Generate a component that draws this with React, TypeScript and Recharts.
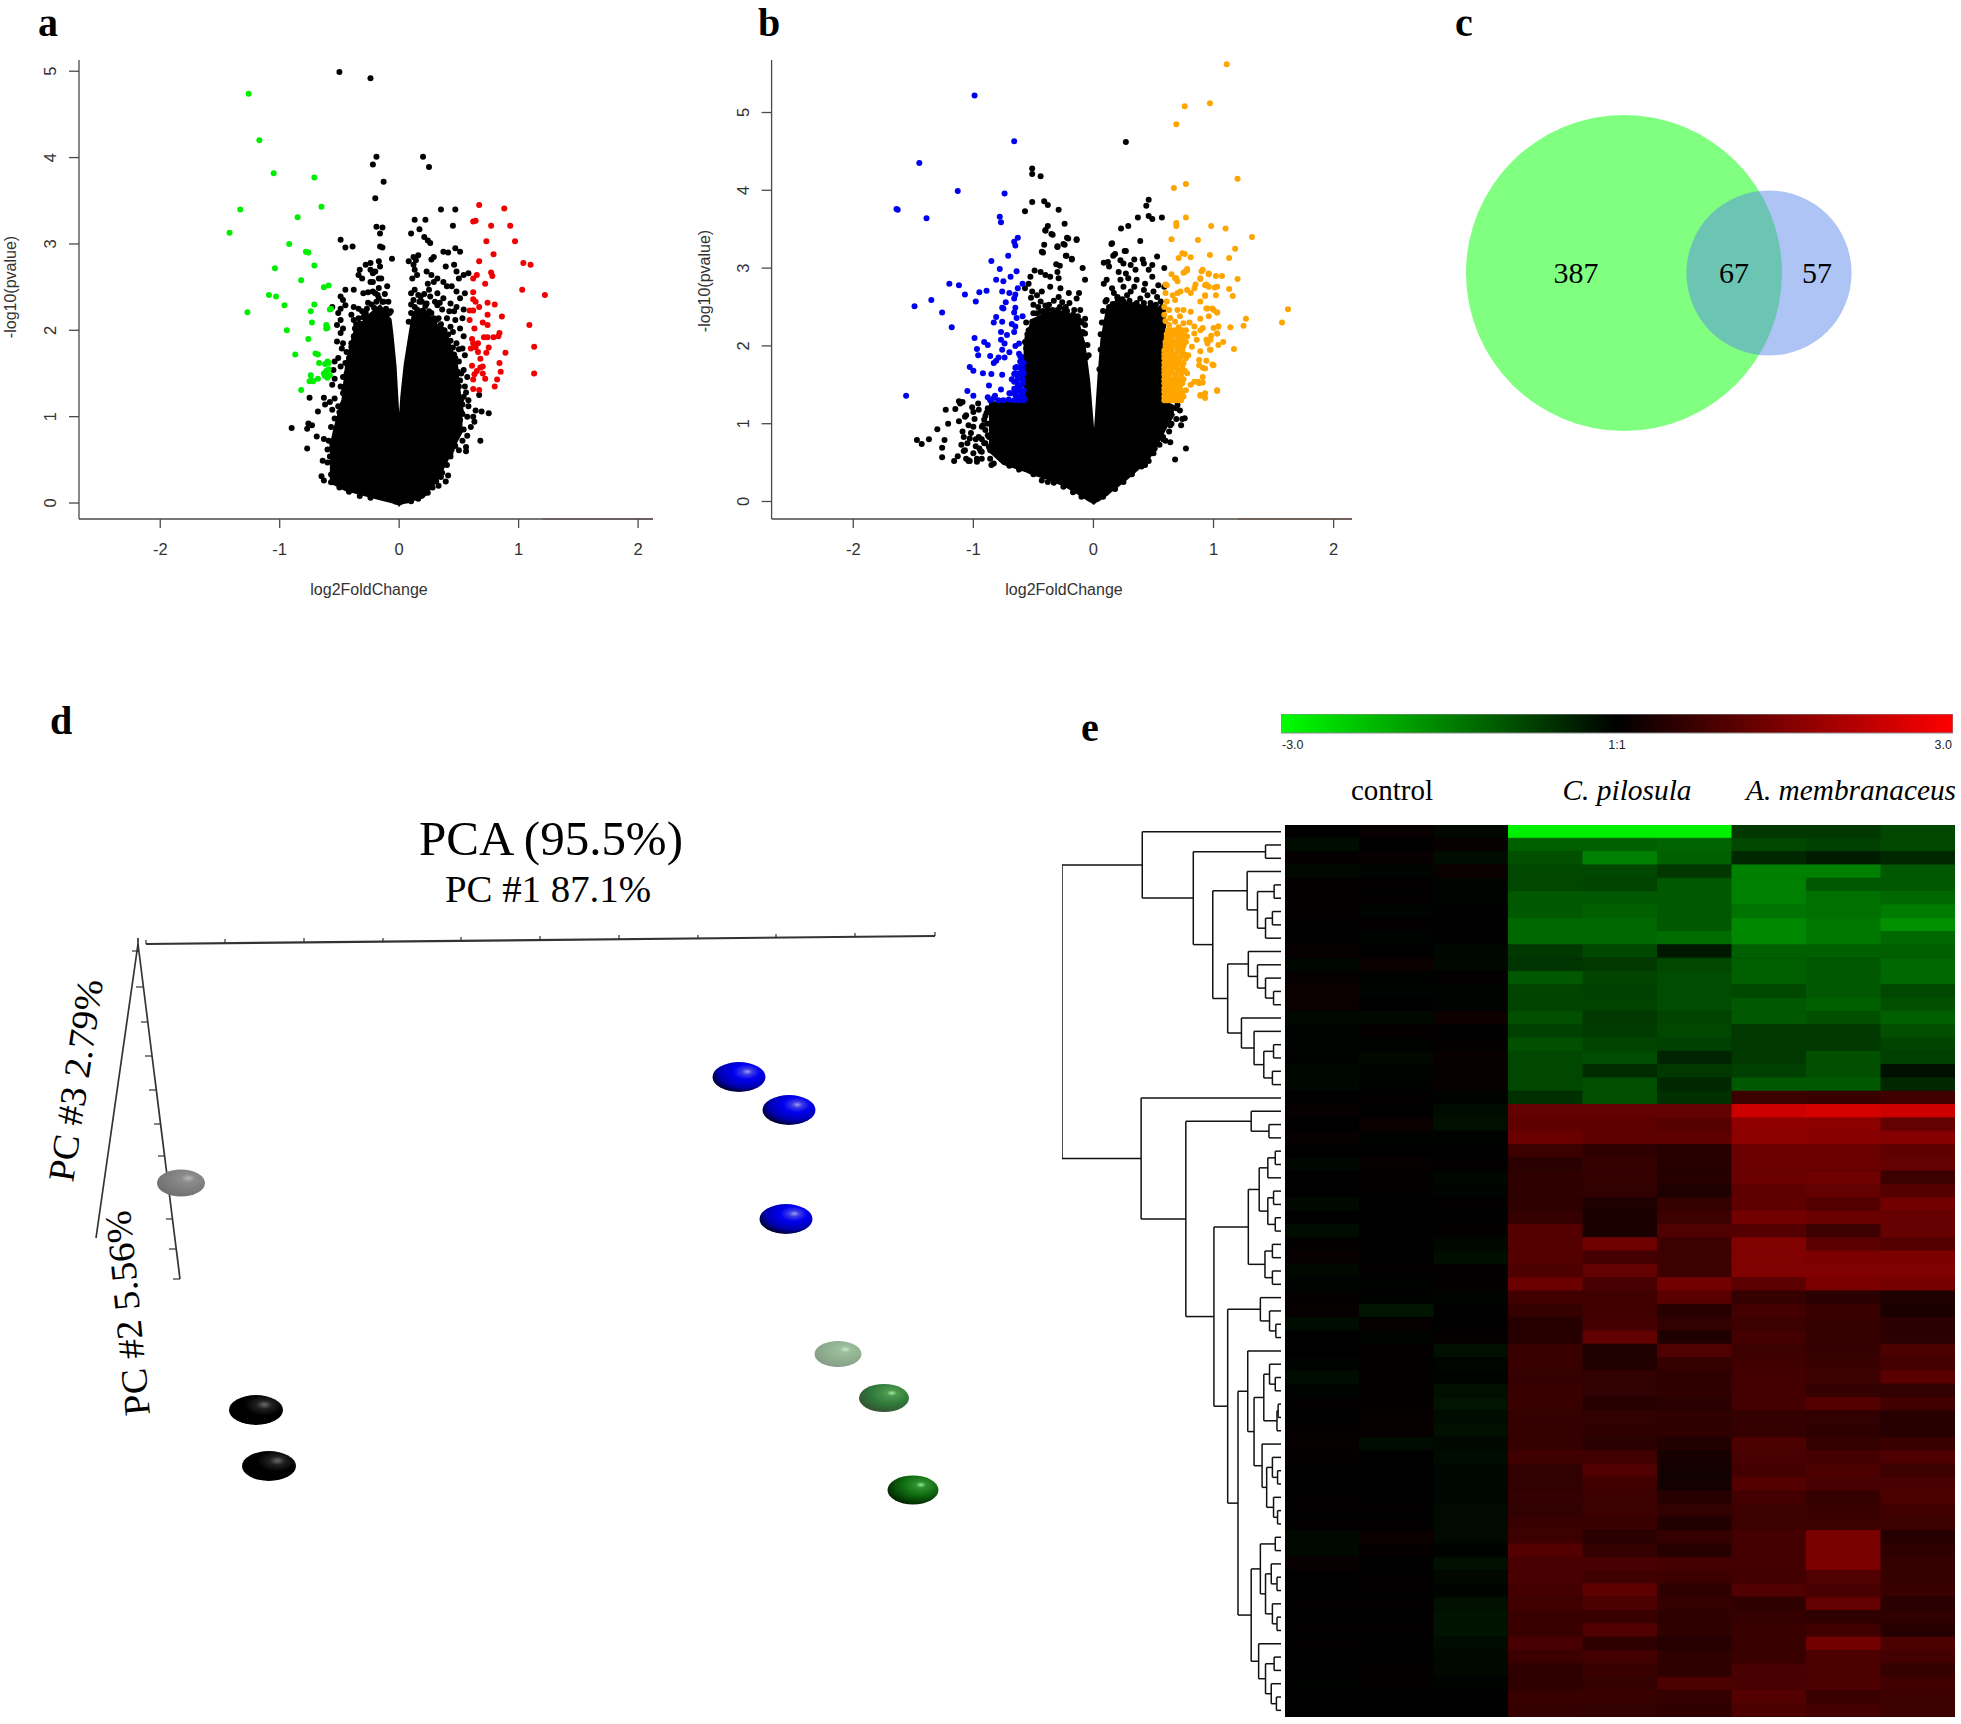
import React from "react";
import {
  BarChart, Bar, Cell, ComposedChart, Area, Scatter, ScatterChart,
  XAxis, YAxis, ZAxis, ReferenceLine,
} from "recharts";

type Rows = [number, number[]][];
type Pt = [number, number];
const fromRows = (rows: Rows) => rows.flatMap(([y, xs]) => xs.map((x) => ({ x, y })));
const fromPts = (p: Pt[]) => p.map(([x, y]) => ({ x, y }));

/* ---------- panel a ---------- */
const aCore: [number, number, number][] = [
  [-0.58,0.24,0.6],[-0.54,0.22,0.85],[-0.47,0.17,1.2],[-0.44,0.15,1.6],[-0.38,0.13,1.95],[-0.27,0.09,2.15],[-0.16,0.05,2.28],[-0.075,0.02,2.12],
  [-0.06,0.015,1.95],[-0.034,0,1.58],[-0.006,-0.01,0.9],[0,-0.02,0.3],[0.006,-0.01,0.9],[0.022,0,1.23],[0.05,0.01,1.6],[0.09,0.02,1.95],
  [0.12,0.04,2.2],[0.2,0.07,2.25],[0.32,0.28,2.05],[0.4,0.5,1.92],[0.48,0.72,1.6],[0.51,0.8,1.2],[0.53,0.85,1.05],
];
const aGreen: Pt[] = [
  [-1.26,4.74],[-1.17,4.2],[-1.05,3.82],[-0.71,3.77],[-0.65,3.43],[-1.33,3.4],[-0.85,3.31],[-1.42,3.13],[-0.92,3],[-0.78,2.91],
  [-0.76,2.9],[-0.71,2.75],[-1.04,2.72],[-0.82,2.58],[-0.59,2.52],[-0.63,2.5],[-1.09,2.41],[-1.03,2.39],[-0.96,2.29],[-0.71,2.3],
  [-0.74,2.22],[-1.27,2.21],[-0.57,2.25],[-0.58,2.24],[-0.73,2.09],[-0.61,2.06],[-0.6,2.03],[-0.61,2.02],[-0.94,2],[-0.76,1.9],[-0.87,1.72],
  [-0.7,1.73],[-0.68,1.72],[-0.6,1.64],[-0.59,1.62],[-0.67,1.62],[-0.62,1.61],[-0.61,1.53],[-0.74,1.48],[-0.63,1.5],[-0.58,1.48],[-0.6,1.45],
  [-0.62,1.47],[-0.59,1.55],[-0.68,1.44],[-0.72,1.41],[-0.75,1.41],[-0.73,1.42],[-0.82,1.31],
];
const aRed: Pt[] = [
  [0.67,3.45],[0.88,3.41],[0.62,3.26],[0.64,3.27],[0.77,3.21],[0.93,3.21],[0.73,3.03],[0.97,3.03],[0.79,2.88],[0.67,2.8],[1.04,2.78],
  [1.1,2.76],[0.77,2.67],[0.78,2.63],[0.65,2.64],[0.62,2.6],[0.72,2.54],[1.03,2.47],[1.22,2.41],[0.62,2.44],[0.62,2.36],[0.64,2.33],
  [0.74,2.32],[0.8,2.3],[0.67,2.27],[0.59,2.23],[0.62,2.23],[0.74,2.18],[0.86,2.16],[0.59,2.12],[0.7,2.09],[0.74,2.06],[1.09,2.06],
  [0.63,2.02],[0.84,1.97],[0.83,1.93],[0.71,1.92],[0.74,1.92],[0.79,1.92],[0.61,1.9],[0.62,1.85],[0.66,1.85],[0.64,1.8],[0.6,1.79],
  [0.75,1.8],[1.13,1.81],[0.66,1.75],[0.73,1.74],[0.89,1.74],[0.68,1.67],[0.61,1.59],[0.84,1.62],[0.68,1.57],[0.7,1.58],[0.65,1.53],
  [1.13,1.5],[0.85,1.52],[0.63,1.49],[0.7,1.5],[0.72,1.44],[0.62,1.43],[0.82,1.43],[0.8,1.35],[0.62,1.32],[0.67,1.31],
];
const aBlackTop: Pt[] = [
  [-0.5,4.99],[-0.24,4.92],[-0.19,4.01],[0.2,4.01],[-0.22,3.92],[0.25,3.89],[-0.13,3.72],[-0.2,3.53],[0.35,3.4],[0.47,3.4],[0.13,3.28],
  [0.22,3.28],[0.45,3.21],[-0.19,3.2],[-0.14,3.19],[0.17,3.17],[-0.16,3.12],[0.1,3.12],[-0.49,3.05],[0.21,3.08],[0.24,3.04],[0.26,3.01],
  [-0.45,2.96],[-0.39,2.97],[-0.16,2.97],[-0.14,2.96],[-0.06,2.83],
  [-0.9,0.87],[-0.77,0.86],[-0.76,0.92],[-0.73,0.9],[-0.75,1.22],[-0.63,1.22],[-0.68,1.06],[-0.77,0.63],[-0.69,0.77],[-0.63,0.74],
  [-0.64,0.49],[-0.6,0.47],[-0.65,0.31],[-0.63,0.26],[-0.57,0.24],[0.67,1.25],[0.75,1.04],[0.69,1.06],[0.63,0.94],[0.68,0.72],
  [0.56,0.65],[0.56,0.6],[0.41,0.32],[0.39,0.25],[0.64,1.07],[0.62,1.0],[0.6,0.88],[0.57,0.78],[0.53,0.72],[0.35,0.3],[0.33,0.2],
];
const aLeftFringe: Pt[] = [
  [-0.24,2.78],[-0.28,2.76],[-0.33,2.7],[-0.34,2.64],[-0.31,2.6],[-0.24,2.7],[-0.22,2.66],[-0.17,2.8],[-0.16,2.74],[-0.2,2.68],[-0.17,2.6],[-0.22,2.56],
  [-0.24,2.56],[-0.15,2.6],[-0.1,2.51],[-0.17,2.49],[-0.2,2.43],[-0.17,2.37],[-0.13,2.33],[-0.09,2.33],[-0.38,2.47],[-0.45,2.47],[-0.49,2.39],[-0.47,2.35],
  [-0.49,2.25],[-0.56,2.27],[-0.51,2.2],[-0.45,2.29],[-0.38,2.27],[-0.34,2.25],[-0.31,2.22],[-0.3,2.43],[-0.22,2.45],[-0.34,2.14],[-0.38,2.12],[-0.4,2.18],
  [-0.49,2.12],[-0.52,2.06],[-0.47,2.02],[-0.49,1.97],[-0.37,2.02],[-0.31,2.02],[-0.35,1.97],[-0.38,1.93],[-0.52,1.87],[-0.47,1.85],[-0.48,1.79],[-0.44,1.75],
  [-0.4,1.81],[-0.34,1.85],[-0.51,1.68],[-0.54,1.64],[-0.49,1.58],[-0.55,1.54],[-0.54,1.44],[-0.56,1.37],[-0.45,1.62],[-0.42,1.54],[-0.47,1.46],[-0.44,1.39],
  [-0.49,1.35],[-0.47,1.27],[-0.54,1.21],[-0.58,1.17],[-0.62,1.14],[-0.47,1.15],[-0.51,1.12],[-0.56,1.08],[-0.44,1.06],[-0.54,0.98],[-0.49,0.9],[-0.52,0.85],
  [-0.47,0.81],[-0.44,0.92],[-0.56,0.69],[-0.54,0.61],[-0.49,0.65],[-0.58,0.54],[-0.41,1.72],[-0.43,1.47],[-0.5,1.05],[-0.57,0.88],[-0.59,0.72],[-0.6,0.62],
  [-0.55,0.42],[-0.57,0.33],[-0.53,0.27],[-0.48,0.23],[-0.43,0.18],[-0.36,2.07],[-0.28,2.2],[-0.26,2.32],[-0.12,2.42],[-0.07,2.22],
  [-0.3,2.15],[-0.33,2.08],[-0.27,2.25],[-0.23,2.3],[-0.19,2.33],[-0.14,2.33],[-0.11,2.25],[-0.08,2.2],[-0.42,1.68],[-0.4,1.85],[-0.36,1.98],[-0.46,1.3],
  [-0.44,1.5],[-0.5,0.98],[-0.53,0.75],[-0.29,2.18],[-0.21,2.26],[-0.18,2.41],[-0.26,2.44],[-0.12,2.2],[-0.5,0.18],[-0.42,0.13],[-0.33,0.08],[-0.24,0.06],
];
const aRightFringe: Pt[] = [
  [0.16,2.87],[0.12,2.85],[0.08,2.8],[0.14,2.81],[0.12,2.76],[0.13,2.7],[0.11,2.6],[0.15,2.64],[0.29,2.85],[0.27,2.82],[0.37,2.91],[0.41,2.9],[0.47,2.95],
  [0.51,2.91],[0.39,2.74],[0.46,2.76],[0.23,2.68],[0.27,2.64],[0.32,2.6],[0.24,2.54],[0.29,2.56],[0.37,2.56],[0.4,2.51],[0.44,2.51],[0.48,2.68],[0.54,2.64],
  [0.5,2.6],[0.58,2.66],[0.48,2.45],[0.55,2.43],[0.51,2.37],[0.13,2.47],[0.1,2.43],[0.16,2.41],[0.12,2.35],[0.25,2.47],[0.19,2.33],[0.32,2.43],[0.26,2.39],
  [0.23,2.31],[0.37,2.37],[0.32,2.29],[0.43,2.31],[0.48,2.27],[0.54,2.24],[0.46,2.22],[0.15,2.24],[0.1,2.2],[0.2,2.22],[0.27,2.2],[0.36,2.24],[0.4,2.14],
  [0.33,2.14],[0.47,2.12],[0.53,2.14],[0.29,2.06],[0.43,2.04],[0.51,2.02],[0.54,1.93],[0.39,1.93],[0.48,1.85],[0.53,1.79],[0.55,1.71],[0.5,1.64],[0.54,1.54],
  [0.57,1.46],[0.51,1.42],[0.55,1.35],[0.54,1.23],[0.58,1.19],[0.53,1.14],[0.57,1],[0.51,0.96],[0.54,0.85],[0.48,0.77],[0.46,0.69],[0.5,0.61],[0.43,0.54],
  [0.58,1.12],[0.45,1.98],[0.35,2.02],[0.5,1.78],[0.46,1.72],[0.52,1.5],[0.56,1.28],[0.52,1.05],[0.44,0.62],[0.4,0.44],[0.36,0.35],[0.28,0.18],[0.24,0.12],
  [0.08,2.1],[0.1,2.3],[0.13,2.27],[0.17,2.33],[0.22,2.28],[0.25,2.22],[0.29,2.14],[0.31,2.12],[0.35,2.07],[0.38,2],[0.41,1.95],[0.43,1.88],[0.45,1.8],
  [0.47,1.68],[0.49,1.52],[0.5,1.35],[0.52,1.2],[0.53,1.03],[0.51,0.85],[0.18,2.39],[0.21,2.42],[0.34,2.32],[0.42,2.22],[0.3,2.33],[0.1,0.02],[0.16,0.05],
  [0.22,0.12],[0.26,0.19],[0.31,0.25],[0.38,0.45],[0.43,0.58],[0.47,0.66],
];

/* ---------- panel b ---------- */
const bCore: [number, number, number][] = [
  [-0.87,0.66,1.27],[-0.75,0.49,1.27],[-0.57,0.4,1.27],[-0.569,0.4,2.03],[-0.51,0.36,2.33],[-0.39,0.3,2.42],[-0.275,0.23,2.42],[-0.22,0.19,2.42],[-0.14,0.12,2.35],
  [-0.11,0.09,2.2],[-0.08,0.06,2.03],[-0.04,0.02,1.56],[-0.006,-0.01,0.92],[0.003,-0.02,0.7],[0.017,0,0.92],[0.044,0.02,1.56],[0.07,0.05,2.08],[0.11,0.09,2.42],
  [0.14,0.13,2.5],[0.2,0.2,2.59],[0.28,0.3,2.55],[0.45,0.53,2.5],[0.56,0.83,2.48],[0.59,0.92,2.48],[0.6,0.95,1.27],[0.67,1.13,1.22],
];
const bBlue: Pt[] = [
  [-0.99,5.22],[-0.66,4.63],[-1.45,4.35],[-1.13,3.99],[-0.74,3.96],[-1.64,3.76],[-1.63,3.75],[-1.39,3.64],[-0.78,3.66],[-0.77,3.59],[-0.63,3.39],
  [-0.66,3.34],[-0.65,3.29],[-0.71,3.16],[-0.85,3.09],[-0.78,2.99],[-0.64,2.96],[-0.69,2.89],[-0.81,2.85],[-0.75,2.83],[-1.2,2.8],[-1.12,2.78],
  [-0.59,2.8],[-0.63,2.74],[-0.95,2.69],[-0.89,2.71],[-0.76,2.7],[-0.7,2.68],[-0.65,2.66],[-1.07,2.66],[-1.35,2.59],[-0.98,2.57],[-1.49,2.51],
  [-0.66,2.61],[-0.73,2.56],[-0.76,2.49],[-0.75,2.48],[-0.65,2.49],[-0.66,2.43],[-1.26,2.43],[-0.59,2.38],[-0.64,2.36],[-0.81,2.37],[-0.83,2.3],
  [-0.76,2.31],[-0.68,2.28],[-1.18,2.24],[-0.65,2.25],[-0.66,2.18],[-0.77,2.18],[-0.72,2.14],[-0.99,2.1],[-0.91,2.05],[-0.88,2.01],[-0.77,2.08],
  [-0.74,2.03],[-0.65,2],[-0.62,2.03],[-0.97,1.96],[-0.76,1.95],[-0.7,1.92],[-0.96,1.88],[-0.86,1.87],[-0.79,1.85],[-0.74,1.85],[-0.61,1.87],
  [-0.81,1.81],[-0.83,1.78],[-1.03,1.73],[-1,1.68],[-0.92,1.65],[-0.85,1.64],[-0.76,1.63],[-0.65,1.72],[-0.61,1.72],[-0.59,1.67],[-0.66,1.64],
  [-0.63,1.62],[-0.59,1.57],[-0.68,1.57],[-0.87,1.49],[-0.77,1.44],[-0.66,1.54],[-0.61,1.49],[-1.05,1.42],[-1,1.36],[-1.56,1.36],[-0.88,1.34],
  [-0.82,1.36],[-0.7,1.39],[-0.65,1.42],[-0.59,1.39],
];
const bBlueDense: Pt[] = [
  [-0.62,1.9],[-0.61,1.8],[-0.64,1.73],[-0.59,1.71],[-0.62,1.65],[-0.65,1.65],[-0.58,1.65],[-0.61,1.58],[-0.64,1.54],[-0.59,1.52],[-0.66,1.45],[-0.62,1.43],
  [-0.58,1.43],[-0.69,1.39],[-0.65,1.37],[-0.61,1.35],[-0.58,1.33],[-0.83,1.33],[-0.79,1.3],[-0.75,1.3],[-0.705,1.31],[-0.66,1.3],[-0.62,1.3],[-0.58,1.3],
  [-0.86,1.3],[-0.6,1.75],[-0.6,1.6],[-0.6,1.5],[-0.6,1.4],[-0.63,1.6],[-0.63,1.48],[-0.63,1.35],[-0.58,1.78],[-0.6,1.85],
];
const bOrange: Pt[] = [
  [1.11,5.62],[0.97,5.12],[0.76,5.08],[0.69,4.85],[1.2,4.15],[0.77,4.08],[0.67,4.03],[0.77,3.65],[0.69,3.58],[0.69,3.54],[0.98,3.54],[1.1,3.51],
  [1.32,3.4],[0.65,3.37],[0.87,3.36],[1.18,3.25],[0.97,3.17],[0.74,3.19],[0.76,3.18],[0.81,3.14],[0.71,3.13],[1.13,3.13],[0.78,2.99],[0.76,2.95],
  [0.9,2.96],[0.65,2.92],[0.96,2.92],[1.02,2.9],[1.07,2.9],[1.2,2.86],[0.69,2.87],[0.89,2.87],[0.6,2.79],[0.85,2.79],[0.94,2.79],[1.13,2.73],
  [1.01,2.75],[1.16,2.64],[0.93,2.65],[1.62,2.47],[1.57,2.3],[1.27,2.35],[1.25,2.26],[1.14,2.24],[0.94,2.48],[0.99,2.48],[1.03,2.43],[1.04,2.25],
  [1.03,2.16],[0.98,2.13],[0.94,2.08],[1.08,2.05],[1.17,1.96],[0.97,1.95],[0.94,1.81],[0.99,1.76],[0.91,1.72],[1.03,1.43],[0.93,1.39],[0.89,1.36],
  [0.87,1.54],[0.91,1.53],
];
const bOrangeScatter: Pt[] = [
  [0.78,2.97],[0.75,2.94],[0.91,2.98],[0.96,2.93],[0.89,2.86],[0.68,2.87],[0.7,2.83],[0.93,2.78],[0.61,2.78],[0.725,2.7],[0.78,2.72],[0.84,2.74],[0.96,2.76],
  [1.03,2.76],[0.6,2.68],[0.66,2.65],[0.7,2.68],[0.81,2.68],[0.93,2.64],[1.02,2.65],[0.61,2.57],[0.68,2.59],[0.89,2.57],[0.59,2.5],[0.95,2.48],[1,2.46],
  [0.63,2.46],[0.7,2.46],[0.75,2.46],[0.81,2.44],[1.03,2.43],[0.59,2.4],[0.96,2.38],[0.89,2.35],[0.75,2.29],[0.84,2.25],[0.91,2.23],[1,2.23],[1.04,2.25],
  [0.84,2.16],[0.89,2.2],[1.03,2.16],[0.86,2.08],[0.78,2.12],[0.975,2.08],[0.95,2.03],[1.04,2.01],[0.82,1.99],[0.89,1.93],[0.975,1.95],[0.79,1.88],[0.88,1.82],
  [0.88,1.75],[1,1.75],[0.93,1.71],[0.78,1.65],[0.91,1.6],[0.84,1.54],[0.88,1.52],[0.81,1.5],[0.77,1.43],[1.03,1.42],[0.89,1.37],[0.93,1.33],
  [0.64,2.36],[0.6,2.32],[0.68,2.31],[0.72,2.38],[0.63,2.27],[0.71,2.24],[0.77,2.2],[0.8,2.3],
];
const bOrangeDense: Rows = [
  [1.3,[0.59,0.61,0.63,0.65,0.67,0.69,0.71,0.73]],[1.35,[0.59,0.61,0.64,0.66,0.69,0.72,0.75]],[1.41,[0.59,0.62,0.64,0.67,0.7,0.74]],
  [1.46,[0.59,0.61,0.63,0.65,0.68,0.72]],[1.52,[0.59,0.61,0.63,0.66,0.7,0.74]],[1.57,[0.59,0.62,0.64,0.67,0.71,0.75]],
  [1.63,[0.59,0.61,0.63,0.68,0.73]],[1.68,[0.59,0.61,0.65,0.7,0.72,0.76]],[1.73,[0.59,0.62,0.66,0.69,0.74]],
  [1.78,[0.59,0.61,0.64,0.67,0.71,0.75]],[1.84,[0.59,0.62,0.65,0.69,0.72,0.77]],[1.89,[0.59,0.61,0.64,0.68,0.73,0.76]],
  [1.94,[0.59,0.62,0.65,0.7,0.74]],[2,[0.6,0.62,0.64,0.67,0.71,0.75]],[2.05,[0.6,0.63,0.66,0.69,0.73,0.77]],
  [2.1,[0.61,0.63,0.65,0.7,0.74]],[2.15,[0.61,0.64,0.67,0.71,0.75]],[2.2,[0.62,0.65,0.68,0.72,0.74]],
];
const bBlackTop: Pt[] = [
  [-0.51,4.28],[-0.51,4.21],[-0.44,4.18],[-0.51,3.85],[-0.41,3.86],[-0.38,3.81],[-0.57,3.73],[-0.29,3.75],[-0.24,3.57],[-0.38,3.54],[-0.4,3.49],
  [-0.35,3.44],[-0.22,3.39],[-0.14,3.37],[-0.3,3.27],[-0.25,3.31],[-0.43,3.21],[-0.23,3.16],[-0.18,3.12],
  [0.27,4.62],[0.46,3.88],[0.44,3.8],[0.46,3.67],[0.37,3.65],[0.49,3.63],[0.57,3.65],[0.29,3.54],[0.23,3.51],[0.39,3.35],[0.15,3.31],[0.26,3.22],
  [-1.47,0.79],[-1.43,0.74],[-1.37,0.8],[-1.3,0.93],[-1.26,0.57],[-1.24,0.79],[-1.26,0.69],[-1.23,1.18],[-1.21,1],[-1.15,1.19],[-1.16,0.52],[-1.13,0.58],
  [-1.12,1.29],[-1.11,1.26],[-1.12,1.03],[-1.1,0.73],[-1.08,0.65],[-1.06,1.11],[-1.04,0.52],[-1.03,0.52],[-1.02,0.88],[-1.01,1.21],[-0.99,1.06],
  [-0.98,0.8],[-0.96,1.26],[-0.95,0.68],[-0.97,0.55],[-0.94,0.65],[-0.92,0.98],[-0.9,0.75],[-0.89,1.14],[-0.86,0.55],[-0.85,0.47],[-1.05,0.75],
  [-0.93,0.8],[-0.91,1.05],[-1.09,0.9],[-0.88,0.85],[-0.87,0.7],[-0.93,0.55],[-1.06,0.55],
  [-1.09,1.28],[-1.07,1.09],[-1,1.15],[-0.955,1.18],[-1.04,0.98],[-1,0.96],[-0.93,0.96],[-1.08,0.83],[-1.03,0.81],[-0.955,0.83],[-0.9,0.92],[-0.98,0.71],
  [-0.91,0.75],[-0.87,0.83],[-1.07,0.66],[-1,0.62],[-0.93,0.64],[-0.86,0.66],[-1.04,0.53],[-0.97,0.51],[-0.83,0.49],[-0.88,1.2],[-0.9,1.1],[-0.88,1.0],
  [0.77,0.68],[0.68,0.54],[0.43,0.47],[0.46,0.52],[0.51,0.68],[0.55,0.73],[0.6,0.78],[0.64,0.76],[0.69,1.06],[0.74,1.06],[0.73,0.98],[0.76,1.07],
  [0.72,1.17],[0.65,1.0],[0.63,0.9],[0.58,0.83],[0.69,1.2],[0.7,1.24],
  [-0.7,0.46],[-0.62,0.41],[-0.5,0.35],[-0.43,0.27],[-0.33,0.24],[-0.25,0.19],[-0.17,0.12],[-0.1,0.06],[-0.38,0.25],[0.08,0.06],[0.18,0.16],[0.25,0.25],
  [0.32,0.35],[0.4,0.45],[0.5,0.62],[0.58,0.8],[0.64,0.98],
];
const bLeftFringe: Pt[] = [
  [-0.4,3.48],[-0.34,3.43],[-0.21,3.38],[-0.14,3.36],[-0.24,3.3],[-0.3,3.28],[-0.41,3.3],[-0.42,3.2],[-0.225,3.16],[-0.18,3.11],[-0.31,3.05],[-0.28,3.03],[-0.09,3],
  [-0.49,2.97],[-0.44,2.95],[-0.4,2.91],[-0.36,2.89],[-0.3,2.95],[-0.29,2.87],[-0.07,2.85],[-0.525,2.89],[-0.54,2.8],[-0.57,2.74],[-0.51,2.7],[-0.43,2.7],[-0.36,2.76],
  [-0.275,2.74],[-0.205,2.68],[-0.12,2.68],[-0.14,2.61],[-0.29,2.63],[-0.44,2.57],[-0.5,2.53],[-0.37,2.53],[-0.23,2.5],[-0.16,2.46],[-0.11,2.46],[-0.07,2.35],[-0.47,2.42],
  [-0.39,2.38],[-0.275,2.42],[-0.19,2.33],[-0.07,2.27],[-0.51,2.31],[-0.43,2.27],[-0.32,2.29],[-0.25,2.23],[-0.15,2.25],[-0.54,2.2],[-0.47,2.18],[-0.36,2.14],[-0.275,2.12],
  [-0.14,2.12],[-0.07,2.16],[-0.54,2.03],[-0.51,2.12],[-0.05,2.01],[-0.09,2.03],[-0.04,1.88],[-0.47,2.65],[-0.52,2.62],[-0.46,2.5],[-0.42,2.45],[-0.33,2.58],[-0.26,2.56],
  [-0.2,2.55],[-0.34,2.46],[-0.24,2.47],[-0.13,2.38],[-0.1,2.3],[-0.56,2.3],[-0.55,2.1],[-0.56,1.97],[-0.58,1.85],[-0.57,1.7],[-0.56,1.55],[-0.57,1.4],
  [-0.5,2.42],[-0.44,2.44],[-0.38,2.47],[-0.3,2.46],[-0.22,2.45],[-0.17,2.4],[-0.12,2.33],[-0.09,2.18],[-0.55,2.15],[-0.57,2.05],[-0.06,1.85],[-0.4,2.52],[-0.28,2.5],
];
const bRightFringe: Pt[] = [
  [0.155,3.32],[0.27,3.22],[0.18,3.18],[0.165,3.16],[0.34,3.11],[0.41,3.11],[0.086,3.07],[0.12,3.08],[0.225,3.1],[0.25,3.06],[0.31,3.04],[0.42,3.06],[0.49,3.04],
  [0.53,3.15],[0.13,3.02],[0.21,2.95],[0.27,2.93],[0.35,2.98],[0.46,2.98],[0.59,3],[0.11,2.85],[0.086,2.8],[0.225,2.85],[0.29,2.87],[0.36,2.85],[0.43,2.8],[0.49,2.89],
  [0.54,2.78],[0.59,2.76],[0.155,2.74],[0.25,2.76],[0.34,2.76],[0.42,2.72],[0.5,2.7],[0.11,2.59],[0.2,2.63],[0.28,2.65],[0.39,2.61],[0.53,2.63],[0.13,2.5],[0.25,2.57],
  [0.225,2.5],[0.34,2.53],[0.475,2.55],[0.1,2.57],[0.56,2.57],[0.08,2.45],[0.07,2.3],[0.06,2.15],[0.31,2.7],[0.45,2.65],[0.17,2.68],
  [0.09,2.3],[0.12,2.45],[0.16,2.54],[0.2,2.62],[0.24,2.6],[0.3,2.58],[0.36,2.55],[0.42,2.55],[0.48,2.52],[0.52,2.53],[0.57,2.5],[0.06,1.95],[0.05,1.7],
];

/* ---------- panel c ---------- */
const vennSets = [
  { name: "C. pilosula", x: 18.4, y: 18.7, z: 454 },
  { name: "A. membranaceus", x: 32.9, y: 18.7, z: 124 },
];
const vennCounts = ["387", "67", "57"];

/* ---------- panel d ---------- */
const pcaGrey: Pt[] = [[13.1, 28.3]];
const pcaBlue: Pt[] = [[68.9, 17.7], [73.9, 21.0], [73.6, 31.9]];
const pcaBlack: Pt[] = [[20.6, 51.0], [21.9, 56.6]];
const pcaLightGreen: Pt[] = [[78.8, 45.4]];
const pcaMidGreen: Pt[] = [[83.4, 49.8]];
const pcaDarkGreen: Pt[] = [[86.3, 59.0]];
const pcaAxes: [number, number, number, number][] = [
  [9.6, 4.4, 88.5, 3.6], [8.8, 4.4, 13, 37.9], [8.8, 4.4, 4.6, 33.8], [8.8, 3.8, 8.8, 5.2],
];
const pc1Ticks: Pt[] = [[9.6,4.4],[17.5,4.3],[25.4,4.2],[33.3,4.2],[41.1,4.1],[49,4],[56.9,3.9],[64.8,3.9],[72.6,3.8],[80.5,3.7],[88.5,3.6]];
const pc3Ticks: Pt[] = [[8.9,5.1],[9.3,8.7],[9.8,12.2],[10.2,15.6],[10.6,19],[11.1,22.4],[11.5,25.6],[11.8,28.6],[12.3,31.9],[12.6,34.9],[13,37.9]];

/* ---------- panel e ---------- */
const heatControl: number[][] = [
  [0,.1,-.1],[-.15,0,.1],[.05,.1,-.15],[-.1,-.05,.15],[.05,.03,-.05],[.05,.03,-.05],[.05,-.05,0],[0,.02,0],[0,-.05,0],[.08,0,-.08],
  [-.08,.15,-.1],[.08,-.02,.02],[.13,-.05,-.05],[.13,0,-.05],[-.1,-.1,.2],[-.05,.07,0],[-.05,-.02,.07],[-.02,-.1,.1],[-.08,-.05,.1],[-.08,-.03,.1],
  [0,.02,-.03],[.08,0,-.15],[0,.13,-.2],[.08,-.03,-.02],[0,0,-.02],[-.08,.08,.02],[0,.04,-.08],[0,.04,-.05],[-.1,0,.02],[0,0,0],
  [-.15,0,.05],[.04,0,-.1],[.1,0,-.18],[-.1,.03,.03],[-.05,-.03,.05],[.05,-.03,-.05],[.08,-.25,0],[-.15,.08,0],[0,-.05,.05],[0,.05,-.2],
  [-.05,.05,-.06],[-.15,.05,-.02],[-.05,.05,-.2],[.02,.05,-.25],[0,.08,-.15],[.05,.08,-.2],[.08,-.15,-.1],[.05,0,-.15],[0,0,-.08],[0,0,-.08],
  [.02,0,-.08],[.02,.02,-.12],[.02,.02,-.12],[-.1,.15,-.12],[-.1,.05,-.03],[.1,0,-.2],[0,.02,-.1],[0,.02,-.05],[.02,.03,-.2],[.03,.03,-.22],
  [.03,.03,-.22],[.02,0,-.15],[0,0,-.1],[0,.05,-.1],[-.03,.05,-.05],[0,0,0],[0,0,0],
];
const heatPilosula: number[][] = [
  [-3,-3,-3],[-1.2,-1.2,-1.25],[-1,-1.6,-1.2],[-.9,-.9,-.7],[-.9,-.85,-1.1],[-1.1,-1.1,-1.1],[-1.1,-1.2,-1.1],[-1.3,-1.3,-1.1],[-1.3,-1.3,-1.35],[-.7,-.9,-.3],
  [-.65,-.7,-.9],[-1.1,-.85,-.95],[-.85,-.8,-.95],[-.85,-.85,-.95],[-1,-.7,-.85],[-.8,-.75,-.9],[-1,-.85,-.8],[-.9,-.95,-.45],[-.9,-.55,-.7],[-.9,-1,-.5],
  [-.6,-1,-.6],[1.3,1.3,1.3],[1.25,1.25,1.15],[1.4,1.25,1.25],[.8,.6,.5],[.55,.7,.5],[.6,.7,.5],[.6,.65,.4],[.6,.4,.7],[.7,.35,.8],
  [1.1,.35,1.05],[1.1,1.45,.8],[1.1,.9,.8],[1,1.3,.8],[1.4,.95,1.5],[.85,.85,1.2],[.7,.85,.5],[.5,.9,.65],[.5,1.3,.4],[.75,.4,1.05],
  [.75,.45,.7],[.7,.65,.6],[.75,.65,.6],[.75,.5,.55],[.7,.65,.6],[.7,.6,.6],[.7,.55,.45],[.85,.85,.3],[.65,1.05,.25],[.65,.85,.25],
  [.7,.8,.5],[.65,.8,.65],[.75,.75,.45],[.8,.55,.7],[1.1,.7,.5],[.95,.95,.9],[.95,.85,.8],[.9,1.25,.6],[.85,1,.7],[.75,.75,.6],
  [.75,1.05,.6],[.95,.6,.5],[.8,.9,.6],[.6,.75,.6],[.6,.7,1],[.75,.75,.7],[.7,.65,.6],
];
const heatMembranaceus: number[][] = [
  [-.7,-.7,-.9],[-.9,-.8,-.9],[-.5,-.35,-.5],[-1.6,-1.6,-1.1],[-1.6,-1.1,-1.1],[-1.6,-1.4,-1.3],[-1.45,-1.4,-1.55],[-1.7,-1.5,-1.8],[-1.7,-1.5,-1.3],[-1.2,-1.2,-1.2],
  [-1.2,-1.1,-1.3],[-1.2,-1.1,-1.3],[-.9,-1.1,-.9],[-1.1,-1.2,-1],[-1.1,-1,-1.2],[-.7,-.7,-1],[-.7,-.7,-.85],[-.7,-1,-.8],[-.8,-1,-.2],[-1.1,-1.1,-.5],
  [.8,.75,.85],[2.5,2.6,2.5],[1.9,1.85,1.3],[1.85,1.8,1.75],[1.4,1.4,1.25],[1.4,1.4,1.3],[1.4,1.45,.8],[1.25,1.3,1.1],[1.25,1.1,1.5],[1.5,1.4,1.35],
  [1.1,.8,1.35],[1.7,1.2,1.1],[1.7,1.65,1.65],[1.7,1.7,1.7],[1.2,1.6,1.55],[.7,.55,.4],[.9,.75,.35],[.8,.7,.55],[.9,.7,.55],[.8,.7,1],
  [.85,.75,.9],[.9,.8,1.2],[.9,.7,.65],[.9,1.1,.85],[.7,.65,.5],[.7,.6,.5],[1,.7,.75],[.95,.9,1.05],[.9,1,.8],[1.1,.95,.95],
  [.9,.7,1],[.8,.75,.85],[.8,.8,.8],[.9,1.6,.5],[.9,1.6,.6],[.9,1.6,.7],[.85,1.05,.7],[1.05,.95,.75],[.6,1.3,.55],[.7,.6,.6],
  [.75,.85,.5],[.75,1.5,1],[.75,1,.9],[.95,1,.7],[.95,1,.85],[1.1,.75,.8],[1,.9,.8],
];
type Tree = number | [number, Tree, Tree];
const dendrogram: Tree =
  [382,
    [242, 0,
      [153, [27, 1, 2],
        [119,
          [59, 3, [41, [12, 4, 5], [27, [15, 6, 7], 8]]],
          [93,
            [57, 9, [41, 10, [27, 11, [13, 12, 13]]]],
            [69, 14, [47, 15, [30, [13, 16, 17], [15, 18, 19]]]]]]]],
    [244, 20,
      [166,
        [52, 21, [21, 22, 23]],
        [117,
          [57,
            [38, [23, [10, 24, 25], 26], [23, [13, 27, 28], [10, 29, 30]]],
            [28, [15, 31, 32], [15, 33, 34]]],
          [93,
            [36, 35, [20, 36, [9, 37, 38]]],
            [75,
              [58, 39,
                [47,
                  [30, [20, 40, [10, 41, 42]], [7, [5, 43, 44], 45]],
                  [33, 46, [25, [15, 47, [6, 48, 49]], [13, 50, [6, 51, 52]]]]]],
              [52,
                [36, [10, 53, 54], [27, [17, 55, [7, 56, 57]], [15, 58, [7, 59, 60]]]],
                [39, 61, [27, [12, 62, 63], [17, 64, [8, 65, 66]]]]]]]]]]];
const colorbarTicks = [-3, 0, 3];
const colorbarLabels: Record<string, string> = { "-3": "-3.0", "0": "1:1", "3": "3.0" };
const heatGroups = ["control", "C. pilosula", "A. membranaceus"];

/* ---------- helpers ---------- */
const heatColor = (v: number) => {
  if (v < 0) return `rgb(0,${Math.round(Math.min(255, Math.abs(v) * 80))},0)`;
  return `rgb(${Math.round(v < 2 ? v * 76 : v * 82)},0,0)`;
};
const abs = (left: number, top: number): React.CSSProperties => ({ position: "absolute", left, top });
const SANS = "'Liberation Sans', Arial, sans-serif";
const SERIF = "'Liberation Serif', 'Times New Roman', serif";
const AX = "#4a4a4a";

const dot = (fill: string) => (p: any) => <circle cx={p.cx} cy={p.cy} r={3} fill={fill} />;
const XTick = (p: any) => (
  <text x={p.x} y={p.y + 25} textAnchor="middle" fontFamily={SANS} fontSize={16.5} fill="#333">{p.payload.value}</text>
);
const YTick = (p: any) => (
  <text x={p.x - 11} y={p.y} transform={`rotate(-90 ${p.x - 11} ${p.y})`} textAnchor="middle" fontFamily={SANS} fontSize={16.5} fill="#333">{p.payload.value}</text>
);

type VolcanoProps = {
  left: number; width: number; axisWidth: number; yDomain: [number, number]; xDomain: [number, number]; yTicks: number[];
  core: [number, number, number][]; black: { x: number; y: number }[];
  lowSet: { x: number; y: number }[]; highSet: { x: number; y: number }[]; lowFill: string; highFill: string; tail: string;
};
const xTickValues = [-2, -1, 0, 1, 2];
const Volcano = ({ left, width, axisWidth, yDomain, xDomain, yTicks, core, black, lowSet, highSet, lowFill, highFill, tail }: VolcanoProps) => (
  <div style={abs(left, 0)}>
    <ComposedChart width={width} height={620} data={core.map(([x, lo, hi]) => ({ x, band: [lo, hi] }))} margin={{ top: 60, right: 0, bottom: 0, left: 0 }}>
      <XAxis type="number" dataKey="x" domain={xDomain} ticks={xTickValues} interval={0} height={101} allowDataOverflow
        tickSize={9} tick={XTick} stroke={AX} strokeWidth={1.3} />
      <YAxis type="number" dataKey="y" domain={yDomain} ticks={yTicks} interval={0} width={axisWidth} allowDataOverflow
        tickSize={10} tick={YTick} stroke={AX} strokeWidth={1.3} />
      <Area dataKey="band" type="linear" stroke="#000" strokeWidth={3} fill="#000" fillOpacity={1} dot={false} activeDot={false} isAnimationActive={false} />
      <Scatter data={black} shape={dot("#000")} isAnimationActive={false} />
      <Scatter data={lowSet} shape={dot(lowFill)} isAnimationActive={false} />
      <Scatter data={highSet} shape={dot(highFill)} isAnimationActive={false} />
      <ReferenceLine segment={[{ x: 1.2, y: yDomain[0] }, { x: xDomain[1], y: yDomain[0] }]} stroke={tail} strokeWidth={1} ifOverflow="visible" />
    </ComposedChart>
  </div>
);

const Venn = () => (
  <div style={abs(1440, 90)}>
    <ScatterChart width={420} height={370} margin={{ top: 0, right: 0, bottom: 0, left: 0 }}>
      <XAxis type="number" dataKey="x" domain={[0, 42]} hide />
      <YAxis type="number" dataKey="y" domain={[0, 37]} hide />
      <ZAxis type="number" dataKey="z" domain={[0, 454]} range={[0, 78430]} />
      <Scatter data={[vennSets[0]]} fill="#80FF80" isAnimationActive={false} />
      <Scatter data={[vennSets[1]]} fill="#5683E7" fillOpacity={0.48} isAnimationActive={false} />
    </ScatterChart>
  </div>
);

const sphere = (id: string, rx: number, ry: number) => (p: any) => (
  <ellipse cx={p.cx} cy={p.cy} rx={rx} ry={ry} fill={`url(#${id})`} />
);
const Grad = ({ id, stops }: { id: string; stops: [number, string][] }) => (
  <radialGradient id={id} cx="0.62" cy="0.34" r="0.72" fx="0.66" fy="0.32">
    {stops.map(([o, c]) => <stop key={o} offset={o} stopColor={c} />)}
  </radialGradient>
);
const Pca = () => (
  <div style={abs(50, 900)}>
    <ScatterChart width={950} height={660} margin={{ top: 0, right: 0, bottom: 0, left: 0 }}>
      <defs>
        <Grad id="sBlue" stops={[[0, "#9a9aec"], [0.14, "#3a3ae8"], [0.35, "#0000f0"], [0.7, "#0000b0"], [1, "#000018"]]} />
        <Grad id="sGrey" stops={[[0, "#b8b8b8"], [0.2, "#8c8c8c"], [1, "#6e6e6e"]]} />
        <Grad id="sBlack" stops={[[0, "#6a6a6a"], [0.2, "#202020"], [0.5, "#000"], [1, "#000"]]} />
        <Grad id="sLight" stops={[[0, "#c8f0c8"], [0.16, "#9cbf9c"], [0.6, "#8fae8f"], [1, "#889a88"]]} />
        <Grad id="sMid" stops={[[0, "#a0eea0"], [0.14, "#4f9a4f"], [0.55, "#2f7a3a"], [1, "#344e34"]]} />
        <Grad id="sDark" stops={[[0, "#90ee90"], [0.14, "#2f8f2f"], [0.5, "#0f6a0f"], [1, "#001e00"]]} />
      </defs>
      <XAxis type="number" dataKey="x" domain={[0, 95]} hide />
      <YAxis type="number" dataKey="y" domain={[0, 66]} reversed hide />
      {pcaAxes.map(([a, b, c, d], i) => (
        <ReferenceLine key={"ax" + i} segment={[{ x: a, y: b }, { x: c, y: d }]} stroke="#333" strokeWidth={i === 0 ? 2.2 : 1.7} ifOverflow="visible" />
      ))}
      {pc1Ticks.map(([x, y], i) => (
        <ReferenceLine key={"p1" + i} segment={[{ x, y }, { x, y: y - 0.4 }]} stroke="#333" strokeWidth={1.2} ifOverflow="visible" />
      ))}
      {pc3Ticks.map(([x, y], i) => (
        <ReferenceLine key={"p3" + i} segment={[{ x: x - 0.7, y }, { x, y }]} stroke="#333" strokeWidth={1.2} ifOverflow="visible" />
      ))}
      <Scatter data={fromPts(pcaGrey)} shape={sphere("sGrey", 24, 13.5)} isAnimationActive={false} />
      <Scatter data={fromPts(pcaBlue)} shape={sphere("sBlue", 26.5, 15)} isAnimationActive={false} />
      <Scatter data={fromPts(pcaBlack)} shape={sphere("sBlack", 27, 15)} isAnimationActive={false} />
      <Scatter data={fromPts(pcaLightGreen)} shape={sphere("sLight", 23.5, 13)} isAnimationActive={false} />
      <Scatter data={fromPts(pcaMidGreen)} shape={sphere("sMid", 25, 14)} isAnimationActive={false} />
      <Scatter data={fromPts(pcaDarkGreen)} shape={sphere("sDark", 25.5, 14.5)} isAnimationActive={false} />
    </ScatterChart>
  </div>
);

const heatRows = heatControl.map((c, i) => {
  const vals = [...c, ...heatPilosula[i], ...heatMembranaceus[i]];
  const row: Record<string, number | string> = { row: String(i) };
  vals.forEach((_, j) => { row["c" + j] = 1; });
  return { row, vals };
});
const columns = [0, 1, 2, 3, 4, 5, 6, 7, 8];
const Heatmap = () => (
  <div style={{ ...abs(1284.5, 825), width: 670.5, height: 892, background: "#000" }}>
    <BarChart width={670.5} height={892} layout="vertical" data={heatRows.map((r) => r.row)} barCategoryGap={0} margin={{ top: 0, right: 0, bottom: 0, left: 0 }}>
      <XAxis type="number" domain={[0, 9]} hide />
      <YAxis type="category" dataKey="row" hide />
      {columns.map((j) => (
        <Bar key={j} dataKey={"c" + j} stackId="h" isAnimationActive={false}>
          {heatRows.map((r, i) => {
            const f = heatColor(r.vals[j]);
            return <Cell key={i} fill={f} stroke={f} strokeWidth={1} />;
          })}
        </Bar>
      ))}
    </BarChart>
  </div>
);

const dendroSegments: [number, number, number, number][] = [];
const dendroLeaves: { x: number; y: number }[] = [];
const walk = (n: Tree): { h: number; y: number } => {
  if (typeof n === "number") {
    dendroLeaves.push({ x: 0, y: n + 0.5 });
    return { h: 0, y: n + 0.5 };
  }
  const [h, a, b] = n;
  const A = walk(a);
  const B = walk(b);
  dendroSegments.push([A.h, A.y, h, A.y], [B.h, B.y, h, B.y], [h, A.y, h, B.y]);
  return { h, y: (A.y + B.y) / 2 };
};
walk(dendrogram);
const Dendro = () => (
  <div style={abs(1062, 825)}>
    <ScatterChart width={219} height={892} margin={{ top: 0, right: 0, bottom: 0, left: 0 }}>
      <XAxis type="number" dataKey="x" domain={[0, 382]} reversed hide />
      <YAxis type="number" dataKey="y" domain={[0, 67]} reversed hide />
      <Scatter data={dendroLeaves} shape={() => <g />} isAnimationActive={false} />
      {dendroSegments.map(([a, b, c, d], i) => (
        <ReferenceLine key={i} segment={[{ x: a, y: b }, { x: c, y: d }]} stroke="#111" strokeWidth={1.5} ifOverflow="visible" />
      ))}
    </ScatterChart>
  </div>
);

const CbTick = (p: any) => {
  const v = p.payload.value;
  const anchor = v < 0 ? "start" : v > 0 ? "end" : "middle";
  return <text x={p.x + (v < 0 ? 1 : v > 0 ? -1 : 0)} y={p.y + 8} textAnchor={anchor} fontFamily={SANS} fontSize={12.5} fill="#222">{colorbarLabels[String(v)]}</text>;
};
const Colorbar = () => (
  <div style={abs(1281, 714)}>
    <BarChart width={672} height={43} layout="vertical" data={[{ n: "scale", span: [-3, 3] }]} barCategoryGap={0} margin={{ top: 0, right: 0, bottom: 0, left: 0 }}>
      <defs>
        <linearGradient id="cbar" x1="0" x2="1" y1="0" y2="0">
          <stop offset="0" stopColor="#00ff00" />
          <stop offset="0.5" stopColor="#000" />
          <stop offset="1" stopColor="#ff0000" />
        </linearGradient>
      </defs>
      <XAxis type="number" domain={[-3, 3]} ticks={colorbarTicks} interval={0} height={24} tickLine={false} axisLine={false} tick={CbTick} />
      <YAxis type="category" dataKey="n" hide />
      <Bar dataKey="span" fill="url(#cbar)" stroke="#8a8a8a" strokeWidth={1} isAnimationActive={false} />
    </BarChart>
  </div>
);

const serif = { fontFamily: SERIF, fill: "#000" };
const Labels = () => (
  <svg width={1961} height={1724} style={{ ...abs(0, 0), pointerEvents: "none" }}>
    {([["a", 38, 36], ["b", 758, 36], ["c", 1455, 36], ["d", 50, 734], ["e", 1081, 741]] as [string, number, number][]).map(([t, x, y]) => (
      <text key={t} x={x} y={y} fontFamily={SERIF} fontWeight={700} fontSize={40} fill="#000">{t}</text>
    ))}
    <text x={369} y={595} textAnchor="middle" fontFamily={SANS} fontSize={16} fill="#333">log2FoldChange</text>
    <text x={1064} y={595} textAnchor="middle" fontFamily={SANS} fontSize={16} fill="#333">log2FoldChange</text>
    <text x={16} y={287} transform="rotate(-90 16 287)" textAnchor="middle" fontFamily={SANS} fontSize={16} fill="#333">-log10(pvalue)</text>
    <text x={710} y={281} transform="rotate(-90 710 281)" textAnchor="middle" fontFamily={SANS} fontSize={16} fill="#333">-log10(pvalue)</text>
    {vennCounts.map((t, i) => (
      <text key={t} x={[1576, 1734, 1817][i]} y={283} textAnchor="middle" {...serif} fontSize={30}>{t}</text>
    ))}
    <text x={551} y={855} textAnchor="middle" {...serif} fontSize={49} textLength={264} lengthAdjust="spacingAndGlyphs">PCA (95.5%)</text>
    <text x={548} y={902} textAnchor="middle" {...serif} fontSize={37} textLength={206} lengthAdjust="spacingAndGlyphs">PC #1 87.1%</text>
    <text x={88} y={1082} transform="rotate(-81.5 88 1082)" textAnchor="middle" {...serif} fontSize={37} textLength={204} lengthAdjust="spacingAndGlyphs">PC #3 2.79%</text>
    <text x={140} y={1312} transform="rotate(-95.6 140 1312)" textAnchor="middle" {...serif} fontSize={37} textLength={206} lengthAdjust="spacingAndGlyphs">PC #2 5.56%</text>
    <text x={1392} y={800} textAnchor="middle" {...serif} fontSize={29}>{heatGroups[0]}</text>
    <text x={1627} y={800} textAnchor="middle" {...serif} fontStyle="italic" fontSize={29} textLength={129} lengthAdjust="spacingAndGlyphs">{heatGroups[1]}</text>
    <text x={1851} y={800} textAnchor="middle" {...serif} fontStyle="italic" fontSize={29} textLength={210} lengthAdjust="spacingAndGlyphs">{heatGroups[2]}</text>
  </svg>
);

export default function App() {
  return (
    <div style={{ ...abs(0, 0), width: 1961, height: 1724, background: "#fff", overflow: "hidden" }}>
      <Volcano left={0} width={653} axisWidth={79} xDomain={[-2.68, 2.125]} yDomain={[-0.185, 5.13]} yTicks={[0, 1, 2, 3, 4, 5]}
        core={aCore} black={[...fromPts(aBlackTop), ...fromPts(aLeftFringe), ...fromPts(aRightFringe)]}
        lowSet={fromPts(aGreen)} highSet={fromPts(aRed)} lowFill="#00ee00" highFill="#f00000" tail="#a8505a" />
      <Volcano left={690} width={662} axisWidth={81.6} xDomain={[-2.68, 2.153]} yDomain={[-0.225, 5.675]} yTicks={[0, 1, 2, 3, 4, 5]}
        core={bCore} black={[...fromPts(bBlackTop), ...fromPts(bLeftFringe), ...fromPts(bRightFringe)]}
        lowSet={[...fromPts(bBlue), ...fromPts(bBlueDense)]} highSet={[...fromPts(bOrange), ...fromPts(bOrangeScatter), ...fromRows(bOrangeDense)]} lowFill="#0000f0" highFill="#ffa500" tail="#e06030" />
      <Venn />
      <Pca />
      <Dendro />
      <Heatmap />
      <Colorbar />
      <Labels />
    </div>
  );
}
